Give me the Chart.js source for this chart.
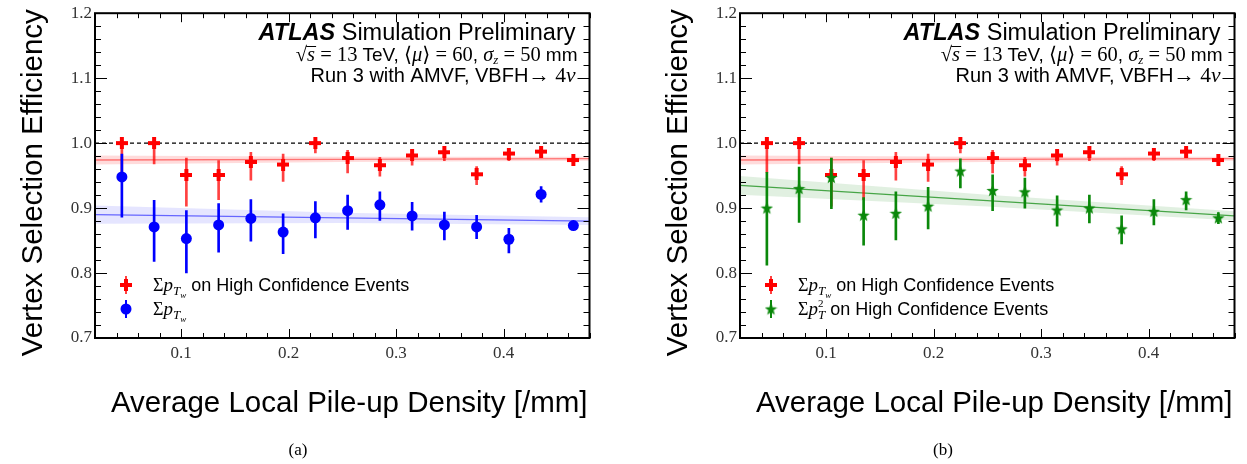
<!DOCTYPE html>
<html>
<head>
<meta charset="utf-8">
<script src="https://cdn.jsdelivr.net/npm/chart.js@4"></script>
<style>
  html, body { margin: 0; padding: 0; background: #fff; }
  #wrap { position: relative; width: 1247px; height: 464px; overflow: hidden; }
  canvas { position: absolute; top: 0; }
  #c1 { left: 0; }
  #c2 { left: 645px; }
</style>
</head>
<body>
<div id="wrap">
  <canvas id="c1" width="620" height="464"></canvas>
  <canvas id="c2" width="602" height="464"></canvas>
</div>
<script>
// bin centres (average local pile-up density, /mm)
const X_BINS = [0.045, 0.075, 0.105, 0.135, 0.165, 0.195, 0.225, 0.255, 0.285, 0.315, 0.345, 0.375, 0.405, 0.435, 0.465];

// sum pT_w on high confidence events (red, both panels)
const RED_EFF = [1.000, 1.000, 0.951, 0.951, 0.971, 0.967, 1.000, 0.977, 0.966, 0.981, 0.986, 0.952, 0.984, 0.987, 0.974];
const RED_LO  = [0.955, 0.968, 0.903, 0.913, 0.943, 0.941, 0.985, 0.954, 0.949, 0.966, 0.973, 0.936, 0.973, 0.980, 0.969];
const RED_HI  = [1.000, 1.000, 0.977, 0.973, 0.986, 0.983, 1.004, 0.989, 0.978, 0.989, 0.992, 0.964, 0.990, 0.992, 0.979];

// sum pT_w, all events (blue, panel a)
const BLUE_EFF = [0.948, 0.871, 0.853, 0.874, 0.884, 0.863, 0.885, 0.896, 0.905, 0.888, 0.874, 0.871, 0.852, 0.921, 0.873];
const BLUE_LO  = [0.886, 0.818, 0.800, 0.832, 0.849, 0.830, 0.854, 0.867, 0.881, 0.866, 0.851, 0.853, 0.831, 0.909, 0.869];
const BLUE_HI  = [0.983, 0.912, 0.896, 0.907, 0.913, 0.891, 0.910, 0.920, 0.925, 0.909, 0.894, 0.889, 0.869, 0.933, 0.876];

// sum pT^2 on high confidence events (green, panel b)
const GREEN_EFF = [0.900, 0.930, 0.947, 0.889, 0.892, 0.903, 0.957, 0.927, 0.925, 0.897, 0.900, 0.868, 0.895, 0.913, 0.885];
const GREEN_LO  = [0.812, 0.878, 0.899, 0.843, 0.851, 0.868, 0.931, 0.896, 0.900, 0.872, 0.877, 0.845, 0.874, 0.897, 0.876];
const GREEN_HI  = [0.955, 0.963, 0.977, 0.916, 0.925, 0.932, 0.976, 0.951, 0.946, 0.919, 0.920, 0.888, 0.913, 0.925, 0.893];

// linear fits with their uncertainty bands
const FIT_X = [0.02, 0.25, 0.48];
const RED_FIT     = [0.974, 0.975, 0.976];
const RED_BAND_LO = [0.967, 0.971, 0.973];
const RED_BAND_HI = [0.981, 0.979, 0.979];
const BLUE_FIT     = [0.890, 0.885, 0.880];
const BLUE_BAND_LO = [0.876, 0.877, 0.874];
const BLUE_BAND_HI = [0.904, 0.893, 0.886];
const GREEN_FIT     = [0.935, 0.9115, 0.888];
const GREEN_BAND_LO = [0.9205, 0.9025, 0.881];
const GREEN_BAND_HI = [0.9495, 0.9205, 0.895];

// reference line at efficiency 1
const REF_X = [0.02, 0.48];
const REF_Y = [1.0, 1.0];

const X_TICKS = [0.1, 0.2, 0.3, 0.4];
const Y_TICKS = [0.7, 0.8, 0.9, 1.0, 1.1, 1.2];

const SANS = '"Liberation Sans", Arial, sans-serif';
const SERIF = '"Liberation Serif", "DejaVu Serif", serif';

const RED = "#ff0000";
const BLUE = "#0000ff";
const GREEN = "#0a880a";

function pts(xs, ys) {
  return xs.map((x, i) => ({ x: x, y: ys[i] }));
}
function bars(xs, lo, hi) {
  return xs.map((x, i) => ({ x: x, y: [lo[i], hi[i]] }));
}

// filled five point star (ROOT marker 29)
function starCanvas(color, size) {
  const c = document.createElement("canvas");
  c.width = c.height = size;
  const g = c.getContext("2d");
  const cx = size / 2, cy = size / 2 + 0.5, R = size / 2, r = R * 0.42;
  g.beginPath();
  for (let i = 0; i < 10; i++) {
    const ang = -Math.PI / 2 + (i * Math.PI) / 5;
    const rad = i % 2 ? r : R;
    g.lineTo(cx + rad * Math.cos(ang), cy + rad * Math.sin(ang));
  }
  g.closePath();
  g.fillStyle = color;
  g.fill();
  return c;
}

// filled thick cross (ROOT marker 34)
function crossCanvas(color, size, arm) {
  const c = document.createElement("canvas");
  c.width = c.height = size;
  const g = c.getContext("2d");
  const o = (size - arm) / 2;
  g.fillStyle = color;
  g.fillRect(0, o, size, arm);
  g.fillRect(o, 0, arm, size);
  return c;
}

const CROSS_IMG = crossCanvas(RED, 12, 4);
const STAR_IMG = starCanvas(GREEN, 13);

const MARK_RED = { pointStyle: CROSS_IMG, pointRadius: 6, pointBorderWidth: 0, pointBackgroundColor: RED };
const MARK_BLUE = { pointStyle: "circle", pointRadius: 5.5, pointBorderWidth: 0, pointBackgroundColor: BLUE, pointBorderColor: BLUE };
const MARK_GREEN = { pointStyle: STAR_IMG, pointRadius: 6, pointBorderWidth: 0, pointBackgroundColor: GREEN };

function seriesSets(eff, lo, hi, barColor, mark, order) {
  return [
    {
      type: "bar",
      data: bars(X_BINS, lo, hi),
      backgroundColor: barColor,
      borderWidth: 0,
      barThickness: 2,
      grouped: false,
      order: order + 1,
    },
    Object.assign({ type: "line", data: pts(X_BINS, eff), showLine: false, order: order }, mark),
  ];
}

function fitSets(fit, bandLo, bandHi, lineColor, bandColor) {
  return [
    { type: "line", data: pts(FIT_X, bandLo), borderWidth: 0, pointRadius: 0, fill: false, order: 30 },
    { type: "line", data: pts(FIT_X, bandHi), borderWidth: 0, pointRadius: 0, fill: "-1", backgroundColor: bandColor, order: 29 },
    { type: "line", data: pts(FIT_X, fit), borderColor: lineColor, borderWidth: 1.3, pointRadius: 0, fill: false, order: 28 },
  ];
}

function refSet() {
  return {
    type: "line",
    data: pts(REF_X, REF_Y),
    borderColor: "#000",
    borderWidth: 1.3,
    borderDash: [4, 3],
    pointRadius: 0,
    fill: false,
    order: 20,
  };
}

// draws a run of text pieces (different fonts / shifts), right edge or left edge anchored
function drawRich(ctx, segs, x, y, alignRight) {
  let w = 0;
  const widths = segs.map((s) => {
    ctx.font = s.f;
    const sw = ctx.measureText(s.t).width;
    if (!s.stay) w += sw;
    return sw;
  });
  let cx = alignRight ? x - w : x;
  ctx.textAlign = "left";
  ctx.textBaseline = "alphabetic";
  segs.forEach((s, i) => {
    ctx.font = s.f;
    ctx.fillText(s.t, cx, y + (s.dy || 0));
    if (s.over) {
      ctx.fillRect(cx - 1, y - s.over, widths[i] + 2, 1);
    }
    if (!s.stay) cx += widths[i];
  });
}

const SUM_PTW = [
  { t: "Σ", f: "18px " + SERIF },
  { t: "p", f: "italic 19px " + SERIF },
  { t: "T", f: "italic 13px " + SERIF, dy: 4 },
  { t: "w", f: "italic 9px " + SERIF, dy: 7 },
];
const SUM_PT2 = [
  { t: "Σ", f: "18px " + SERIF },
  { t: "p", f: "italic 19px " + SERIF },
  { t: "2", f: "11px " + SERIF, dy: -8, stay: true },
  { t: "T", f: "italic 13px " + SERIF, dy: 4 },
];
const ON_HCE = { t: " on High Confidence Events", f: "18px " + SANS };

const atlasFrame = {
  id: "atlasFrame",
  afterDraw(chart, args, opts) {
    const ctx = chart.ctx;
    const a = chart.chartArea;
    const xs = chart.scales.x;
    const ys = chart.scales.y;
    ctx.save();
    ctx.fillStyle = "#000";
    ctx.strokeStyle = "#000";

    // inner ticks on all four sides
    ctx.lineWidth = 1;
    ctx.beginPath();
    for (let k = 1; k <= 24; k++) {
      const v = k * 0.02;
      const px = Math.round(xs.getPixelForValue(v)) + 0.5;
      const len = k % 5 === 0 ? 9 : 5;
      ctx.moveTo(px, a.bottom);
      ctx.lineTo(px, a.bottom - len);
      ctx.moveTo(px, a.top);
      ctx.lineTo(px, a.top + len);
    }
    for (let k = 35; k <= 60; k++) {
      const v = k * 0.02;
      const py = Math.round(ys.getPixelForValue(v)) + 0.5;
      const len = k % 5 === 0 ? 12 : 6;
      ctx.moveTo(a.left, py);
      ctx.lineTo(a.left + len, py);
      ctx.moveTo(a.right, py);
      ctx.lineTo(a.right - len, py);
    }
    ctx.stroke();

    // frame
    ctx.lineWidth = 2;
    ctx.strokeRect(a.left, a.top, a.right - a.left, a.bottom - a.top);

    // ATLAS label block
    const rx = a.right - 14;
    drawRich(ctx, [
      { t: "ATLAS", f: "italic bold 23.5px " + SANS },
      { t: " Simulation Preliminary", f: "23.5px " + SANS },
    ], rx, 40, true);
    drawRich(ctx, [
      { t: "√", f: "20.5px " + SERIF },
      { t: "s", f: "italic 20.5px " + SERIF, over: 15 },
      { t: " = 13 ", f: "20.5px " + SERIF },
      { t: "TeV, ", f: "19px " + SANS },
      { t: "⟨", f: "20.5px " + SERIF },
      { t: "μ", f: "italic 20.5px " + SERIF },
      { t: "⟩ = 60", f: "20.5px " + SERIF },
      { t: ", ", f: "19px " + SANS },
      { t: "σ", f: "italic 20.5px " + SERIF },
      { t: "z", f: "italic 13px " + SERIF, dy: 3 },
      { t: " = 50 ", f: "20.5px " + SERIF },
      { t: "mm", f: "19px " + SANS },
    ], rx + 2, 61, true);
    drawRich(ctx, [
      { t: "Run 3 with AMVF, VBFH", f: "20px " + SANS },
      { t: "→ 4", f: "21.5px " + SERIF },
      { t: "ν", f: "italic 21.5px " + SERIF },
    ], rx, 82, true);

    // legend
    const mx = a.left + 31;
    const tx = a.left + 58;
    opts.legend.forEach((item, i) => {
      const yy = 285 + i * 24;
      ctx.fillStyle = item.bar;
      ctx.fillRect(mx - 1, yy - 9, 2, 18);
      ctx.fillStyle = item.color;
      Chart.helpers.drawPoint(ctx, {
        pointStyle: item.style,
        radius: item.radius,
        borderWidth: 0,
        rotation: 0,
      }, mx, yy);
      ctx.fillStyle = "#000";
      drawRich(ctx, item.segs, tx, yy + 6, false);
    });

    // axis titles
    ctx.fillStyle = "#000";
    ctx.font = "29.5px " + SANS;
    ctx.textAlign = "right";
    ctx.textBaseline = "alphabetic";
    ctx.fillText("Average Local Pile-up Density [/mm]", a.right - 2, 412);
    ctx.save();
    ctx.translate(42, a.top - 4);
    ctx.rotate(-Math.PI / 2);
    ctx.fillText("Vertex Selection Efficiency", 0, 0);
    ctx.restore();

    // sub-figure tag
    ctx.font = "17px " + SERIF;
    ctx.textAlign = "center";
    ctx.fillText(opts.tag, a.left + 203, 455);
    ctx.restore();
  },
};

function makeOptions(rightPad, tag, legend) {
  return {
    responsive: false,
    animation: false,
    layout: { padding: { left: 0, top: 11.5, right: rightPad, bottom: 0 } },
    plugins: {
      legend: { display: false },
      tooltip: { enabled: false },
      atlasFrame: { tag: tag, legend: legend },
    },
    scales: {
      x: {
        type: "linear",
        min: 0.02,
        max: 0.48,
        offset: false,
        grid: { display: false, drawTicks: false },
        border: { display: false },
        afterBuildTicks: (s) => {
          s.ticks = X_TICKS.map((v) => ({ value: v }));
        },
        afterFit: (s) => {
          s.height = 126;
        },
        ticks: {
          autoSkip: false,
          maxRotation: 0,
          padding: 5,
          color: "#333",
          font: { family: SERIF, size: 17 },
          callback: (v) => Number(v).toFixed(1),
        },
      },
      y: {
        type: "linear",
        min: 0.7,
        max: 1.2,
        grid: { display: false, drawTicks: false },
        border: { display: false },
        afterBuildTicks: (s) => {
          s.ticks = Y_TICKS.map((v) => ({ value: v }));
        },
        afterFit: (s) => {
          s.width = 95;
        },
        ticks: {
          autoSkip: false,
          padding: 3,
          color: "#333",
          font: { family: SERIF, size: 17 },
          callback: (v) => Number(v).toFixed(1),
        },
      },
    },
  };
}

const legendA = [
  { color: RED, bar: "rgba(255,0,0,0.75)", style: CROSS_IMG, radius: 6, segs: SUM_PTW.concat([ON_HCE]) },
  { color: BLUE, bar: BLUE, style: "circle", radius: 5.5, segs: SUM_PTW },
];
const legendB = [
  { color: RED, bar: "rgba(255,0,0,0.75)", style: CROSS_IMG, radius: 6, segs: SUM_PTW.concat([ON_HCE]) },
  { color: GREEN, bar: GREEN, style: STAR_IMG, radius: 6, segs: SUM_PT2.concat([ON_HCE]) },
];

new Chart(document.getElementById("c1"), {
  type: "line",
  data: {
    datasets: [].concat(
      fitSets(RED_FIT, RED_BAND_LO, RED_BAND_HI, "rgba(255,70,70,0.7)", "rgba(255,0,0,0.14)"),
      fitSets(BLUE_FIT, BLUE_BAND_LO, BLUE_BAND_HI, "rgba(70,70,255,0.8)", "rgba(70,70,255,0.14)"),
      [refSet()],
      seriesSets(RED_EFF, RED_LO, RED_HI, "rgba(255,0,0,0.75)", MARK_RED, 6),
      seriesSets(BLUE_EFF, BLUE_LO, BLUE_HI, BLUE, MARK_BLUE, 2)
    ),
  },
  options: makeOptions(30.5, "(a)", legendA),
  plugins: [atlasFrame],
});

new Chart(document.getElementById("c2"), {
  type: "line",
  data: {
    datasets: [].concat(
      fitSets(RED_FIT, RED_BAND_LO, RED_BAND_HI, "rgba(255,70,70,0.7)", "rgba(255,0,0,0.14)"),
      fitSets(GREEN_FIT, GREEN_BAND_LO, GREEN_BAND_HI, "rgba(20,140,20,0.75)", "rgba(20,140,20,0.13)"),
      [refSet()],
      seriesSets(RED_EFF, RED_LO, RED_HI, "rgba(255,0,0,0.75)", MARK_RED, 6),
      seriesSets(GREEN_EFF, GREEN_LO, GREEN_HI, GREEN, MARK_GREEN, 2)
    ),
  },
  options: makeOptions(12.5, "(b)", legendB),
  plugins: [atlasFrame],
});
</script>
</body>
</html>
